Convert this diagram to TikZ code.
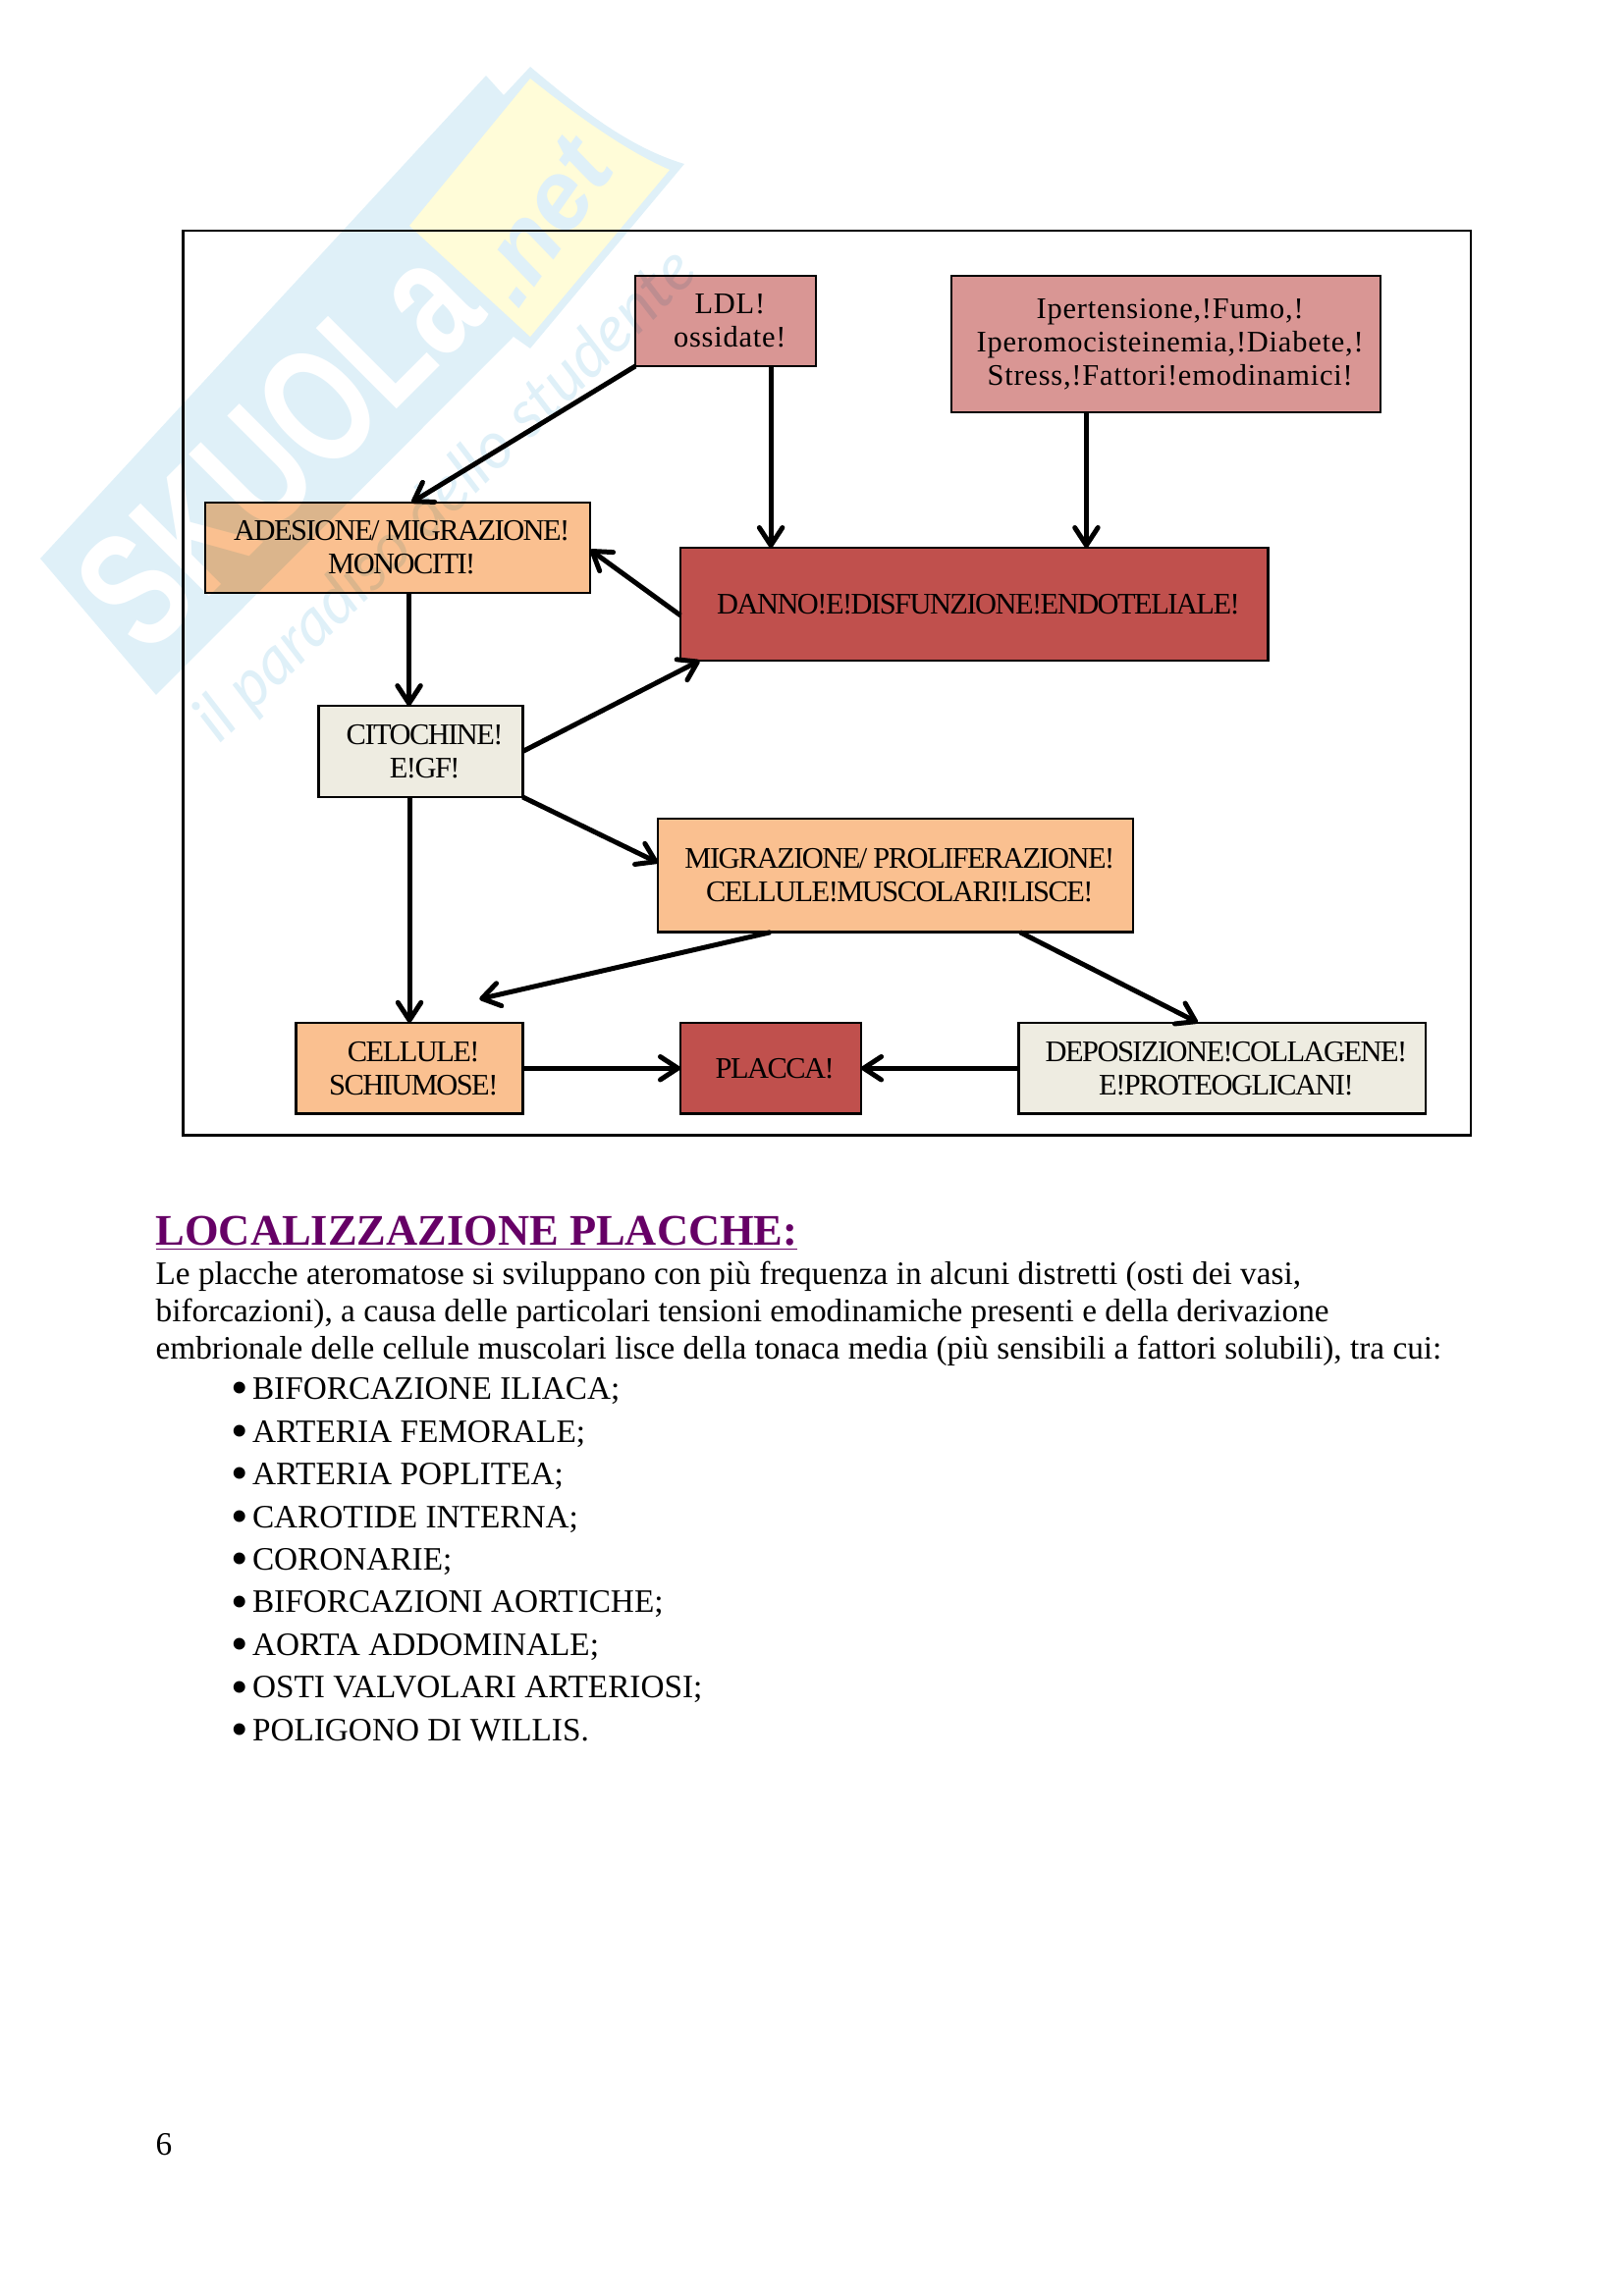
\documentclass[tikz,border=0pt]{standalone}
\usepackage{fontspec}
\usetikzlibrary{arrows.meta,positioning,backgrounds}
\setmainfont{Liberation Serif}
\newfontfamily\stretta[LetterSpace=-5]{Liberation Serif}
\newfontfamily\larga[LetterSpace=2.6]{Liberation Serif}
\newfontfamily\marchio[FakeStretch=0.72]{Liberation Sans Bold}
\newfontfamily\dominio{Liberation Sans Bold Italic}
\newfontfamily\corsivo{Lato Italic}
\definecolor{rosa}{HTML}{D99694}
\definecolor{rosascuro}{HTML}{BE8D90}
\definecolor{mattone}{HTML}{C0504D}
\definecolor{pesca}{HTML}{FAC090}
\definecolor{pescascuro}{HTML}{DBB58C}
\definecolor{avorio}{HTML}{EEECE1}
\definecolor{viola}{HTML}{660066}
\definecolor{filigrana}{HTML}{DFF0F8}
\definecolor{giallino}{HTML}{FFFCD8}
\newcommand{\bandiera}{(41,569) -- (495,77) -- (513,97) -- (540,68) .. controls (590,110) and (640,150) .. (697,167) -- (540,355) -- (523,343) -- (159,708) -- cycle}
\newcommand{\sigla}[2]{\node[rotate=45,text=#1,font=\fontsize{61}{61}\marchio,inner sep=0pt] (sigla#2) at (283,455) {SKUOLa};}
\newcommand{\motto}[2]{\node[rotate=44.4,text=#1,font=\fontsize{24}{24}\corsivo,inner sep=0pt] (motto#2) at (455,506) {il paradiso dello studente};}
\newcommand{\punto}{\lower1.9pt\hbox{\fontsize{18}{14}\selectfont •}\kern1.35pt}

\begin{document}
\begin{tikzpicture}[
  box/.style={draw=black,line width=0.9pt,outer sep=0pt,inner sep=0pt,align=center,font=\fontsize{11}{12.3}\stretta},
  rosabox/.style={box,font=\fontsize{11}{12.3}\larga},
  dannobox/.style={box,fill=mattone},
  pescabox/.style={box,fill=pesca},
  avoriobox/.style={box,fill=avorio},
  arrow/.style={-{Straight Barb[round,length=6.5pt,width=8.5pt,line width=1.8pt]},line width=1.8pt},
  riga/.style={anchor=base west,inner sep=0pt,font=\fontsize{12.03}{14}\selectfont},
  voce/.style={riga,font=\fontsize{12.03}{14}\selectfont}
]
  \useasboundingbox (0,0) rectangle (210mm,-297.15mm);
  \node[draw=black,line width=0.9pt,outer sep=0pt,minimum width=166.6mm,minimum height=117.1mm,anchor=north west] (cornice) at (23.7mm,-29.85mm) {};

  \node[rosabox,minimum width=23.4mm,minimum height=11.7mm,below right=5.84mm and 58.5mm of cornice.north west] (ldl) {\;LDL!\\\;ossidate!};
  \node[rosabox,fill=rosa,minimum width=55.5mm,minimum height=17.7mm,right=17.5mm of ldl.north east,anchor=north west] (fattori) {\;Ipertensione,!Fumo,!\\\;Iperomocisteinemia,!Diabete,!\\\;Stress,!Fattori!emodinamici!};
  \node[box,minimum width=49.8mm,minimum height=11.7mm,below left=17.66mm and 5.84mm of ldl.south west] (adesione) {\;ADESIONE/ MIGRAZIONE!\\\;MONOCITI!};
  \node[dannobox,minimum width=76mm,minimum height=14.6mm,below right=23.5mm and 5.85mm of ldl.south west] (danno) {\;DANNO!E!DISFUNZIONE!ENDOTELIALE!};
  \node[avoriobox,minimum width=26.4mm,minimum height=11.8mm,below right=14.6mm and 14.67mm of adesione.south west] (citochine) {\;CITOCHINE!\\\;E!GF!};
  \node[pescabox,minimum width=61.5mm,minimum height=14.7mm,below right=2.8mm and 17.5mm of citochine.south east] (migrazione) {\;MIGRAZIONE/ PROLIFERAZIONE!\\\;CELLULE!MUSCOLARI!LISCE!};
  \node[pescabox,minimum width=29.3mm,minimum height=11.8mm,below left=29.2mm and 0mm of citochine.south east] (schiumose) {\;CELLULE!\\\;SCHIUMOSE!};
  \node[dannobox,minimum width=23.4mm,minimum height=11.8mm,right=20.4mm of schiumose] (placca) {\;PLACCA!};
  \node[avoriobox,minimum width=52.6mm,minimum height=11.8mm,right=20.4mm of placca] (collagene) {\;DEPOSIZIONE!COLLAGENE!\\\;E!PROTEOGLICANI!};
  \coordinate[above left=3.05mm and 5.6mm of schiumose.north east] (ritorno);

  \draw[arrow] (ldl.south west) -- ([xshift=1.78mm]adesione.north);
  \draw[arrow] ([xshift=5.84mm]ldl.south) -- ([xshift=5.84mm]ldl.south |- danno.north);
  \draw[arrow] ([xshift=-10.29mm]fattori.south) -- ([xshift=-10.29mm]fattori.south |- danno.north);
  \draw[arrow] ([yshift=-1.46mm]danno.west) -- ([yshift=-0.25mm]adesione.east);
  \draw[arrow] ([xshift=1.46mm]adesione.south) -- ([xshift=1.46mm]adesione.south |- citochine.north);
  \draw[arrow] (citochine.east) -- ([xshift=-35.5mm]danno.south);
  \draw[arrow] (citochine.south east) -- ([yshift=1.65mm]migrazione.west);
  \draw[arrow] (schiumose.north |- citochine.south) -- (schiumose.north);
  \draw[arrow] ([xshift=-16.17mm]migrazione.south) -- (ritorno);
  \draw[arrow] ([xshift=16.09mm]migrazione.south) -- ([xshift=-3.14mm]collagene.north);
  \draw[arrow] (schiumose) -- (placca);
  \draw[arrow] (collagene) -- (placca);

  \node[riga,font=\fontsize{16.08}{18}\selectfont\bfseries\color{viola}] (titolo) at ([xshift=-3.62mm,yshift=-14.15mm]cornice.south west) {\underline{LOCALIZZAZIONE PLACCHE:}};
  \node[riga] (riga1) at ([yshift=-5.16mm]titolo.base west) {Le placche ateromatose si sviluppano con più frequenza in alcuni distretti (osti dei vasi,};
  \node[riga] (riga2) at ([yshift=-4.83mm]riga1.base west) {biforcazioni), a causa delle particolari tensioni emodinamiche presenti e della derivazione};
  \node[riga] (riga3) at ([yshift=-4.83mm]riga2.base west) {embrionale delle cellule muscolari lisce della tonaca media (più sensibili a fattori solubili), tra cui:};

  \node[voce] (voce1) at ([xshift=9.81mm,yshift=-5.2mm]riga3.base west) {\punto BIFORCAZIONE ILIACA;};
  \node[voce] (voce2) at ([yshift=-5.52mm]voce1.base west) {\punto ARTERIA FEMORALE;};
  \node[voce] (voce3) at ([yshift=-5.52mm]voce2.base west) {\punto ARTERIA POPLITEA;};
  \node[voce] (voce4) at ([yshift=-5.52mm]voce3.base west) {\punto CAROTIDE INTERNA;};
  \node[voce] (voce5) at ([yshift=-5.52mm]voce4.base west) {\punto CORONARIE;};
  \node[voce] (voce6) at ([yshift=-5.52mm]voce5.base west) {\punto BIFORCAZIONI AORTICHE;};
  \node[voce] (voce7) at ([yshift=-5.52mm]voce6.base west) {\punto AORTA ADDOMINALE;};
  \node[voce] (voce8) at ([yshift=-5.52mm]voce7.base west) {\punto OSTI VALVOLARI ARTERIOSI;};
  \node[voce] (voce9) at ([yshift=-5.52mm]voce8.base west) {\punto POLIGONO DI WILLIS.};

  \node[riga] (pagina) at ([yshift=-132mm]cornice.south west -| titolo.base west) {6};

  % filigrana
  \begin{pgfonlayer}{background}
    \begin{scope}[x=0.12704mm,y=-0.12704mm]
      \fill[filigrana] \bandiera;
      \fill[giallino] (417,230) -- (540,80) .. controls (590,120) and (640,155) .. (682,173) -- (540,343) -- cycle;
      \sigla{white}{a}
      \node[rotate=55,text=filigrana,font=\fontsize{36}{36}\dominio,inner sep=0pt] (rete) at (552,226) {.net};
      \motto{filigrana}{a}
    \end{scope}
    \fill[pesca] (adesione.south west) rectangle (adesione.north east);
    \fill[rosa] (ldl.south west) rectangle (ldl.north east);
    \begin{scope}[x=0.12704mm,y=-0.12704mm]
      \clip (adesione.south west) rectangle (adesione.north east);
      \fill[pescascuro] \bandiera;
      \sigla{pesca}{b}
      \motto{pescascuro}{b}
    \end{scope}
    \begin{scope}[x=0.12704mm,y=-0.12704mm]
      \clip (ldl.south west) rectangle (ldl.north east);
      \motto{rosascuro}{c}
    \end{scope}
  \end{pgfonlayer}
\end{tikzpicture}
\end{document}
